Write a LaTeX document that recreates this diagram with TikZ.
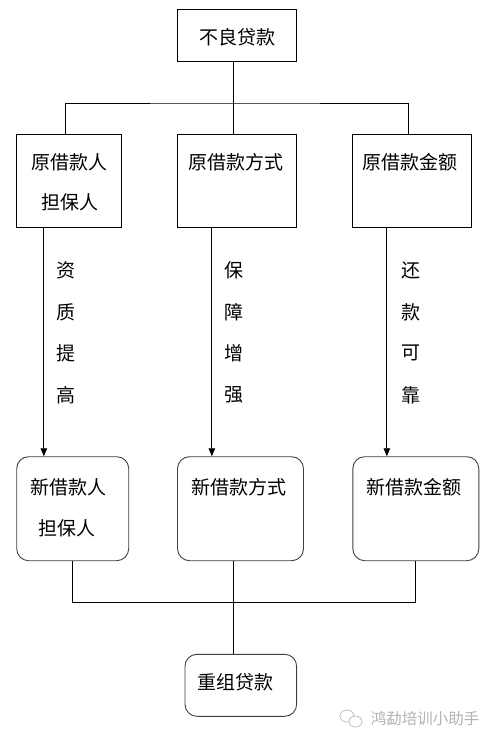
\documentclass[tikz,border=0pt]{standalone}
\usepackage{fontspec}
\newfontfamily\cjk{Noto Sans CJK SC}
\usetikzlibrary{arrows.meta}
\begin{document}
\begin{tikzpicture}[x=1pt,y=-1pt,
  line width=0.9pt,
  sq/.style={draw=black, line width=0.9pt, inner sep=0pt},
  rb/.style={draw=black!75, line width=0.9pt, rounded corners=12pt, inner sep=0pt},
  txt/.style={font=\cjk\fontsize{19}{20}\selectfont, inner sep=0pt},
  wm/.style={font=\cjk\fontsize{15.5}{16}\selectfont, text=black!30, inner sep=0pt},
  arr/.style={-{Triangle[length=8pt,width=6.5pt]}}]
\useasboundingbox[fill=white] (0,0) rectangle (495,743);
% top row
\node[sq, minimum width=119pt, minimum height=52pt] (top) at (236.8,35) {};
\node[sq, minimum width=105pt, minimum height=93pt] (a1) at (68.8,180.5) {};
\node[sq, minimum width=119pt, minimum height=93pt] (a2) at (236.8,180.5) {};
\node[sq, minimum width=119pt, minimum height=93pt] (a3) at (411.8,180.5) {};
% new boxes
\node[rb, minimum width=112pt, minimum height=104pt] (b1) at (72.7,508.7) {};
\node[rb, minimum width=126pt, minimum height=104pt] (b2) at (240.5,508.7) {};
\node[rb, minimum width=126pt, minimum height=104pt] (b3) at (415.8,508.7) {};
\node[rb, minimum width=111.7pt, minimum height=62pt] (bot) at (240.8,685.3) {};
% texts
\node[txt] (ttop) at (237,37) {不良贷款};
\node[txt] (ta1a) at (69,162) {原借款人};
\node[txt] (ta1b) at (69.5,202.5) {担保人};
\node[txt] (ta2) at (235.7,162) {原借款方式};
\node[txt] (ta3) at (410.3,162) {原借款金额};
\node[txt] (tb1a) at (68,487) {新借款人};
\node[txt] (tb1b) at (66.7,528) {担保人};
\node[txt] (tb2) at (238.5,487) {新借款方式};
\node[txt] (tb3) at (414,487) {新借款金额};
\node[txt] (tbot) at (235,682) {重组贷款};
% vertical labels
\foreach \c/\y [count=\i] in {资/270.5,质/312,提/353,高/395}
  \node[txt] (la\i) at (65.5,\y) {\c};
\foreach \c/\y [count=\i] in {保/270.5,障/312,增/353,强/395}
  \node[txt] (lb\i) at (233.5,\y) {\c};
\foreach \c/\y [count=\i] in {还/270.5,款/312,可/353,靠/395}
  \node[txt] (lc\i) at (410.5,\y) {\c};
% top connectors
\coordinate (j1) at (233.3,103);
\draw ([xshift=-3.5pt]top.south) -- (j1);
\draw ([xshift=-3.5pt]a1.north) |- (j1) -| ([xshift=-3.5pt]a3.north);
\draw (j1) -- ([xshift=-3.5pt]a2.north);
% arrows
\draw[arr] ([xshift=28pt]a1.south west) -- ([xshift=28pt]a1.south west |- b1.north);
\draw[arr] ([xshift=35pt]a2.south west) -- ([xshift=35pt]a2.south west |- b2.north);
\draw[arr] ([xshift=35pt]a3.south west) -- ([xshift=35pt]a3.south west |- b3.north);
% bottom connectors
\coordinate (j2) at (233.3,602.3);
\draw (b1.south) |- (j2) -| (b3.south);
\draw ([xshift=-7.2pt]b2.south) -- (j2) -- (j2 |- bot.north);
% watermark
\node[wm] (wmt) at (425,719) {鸿勐培训小助手};
\draw[black!25, line width=0.8pt] (347,716) ellipse (7pt and 6pt);
\draw[black!25, line width=0.8pt, fill=white] (355.5,721.5) ellipse (6.5pt and 5.5pt);
\end{tikzpicture}
\end{document}
